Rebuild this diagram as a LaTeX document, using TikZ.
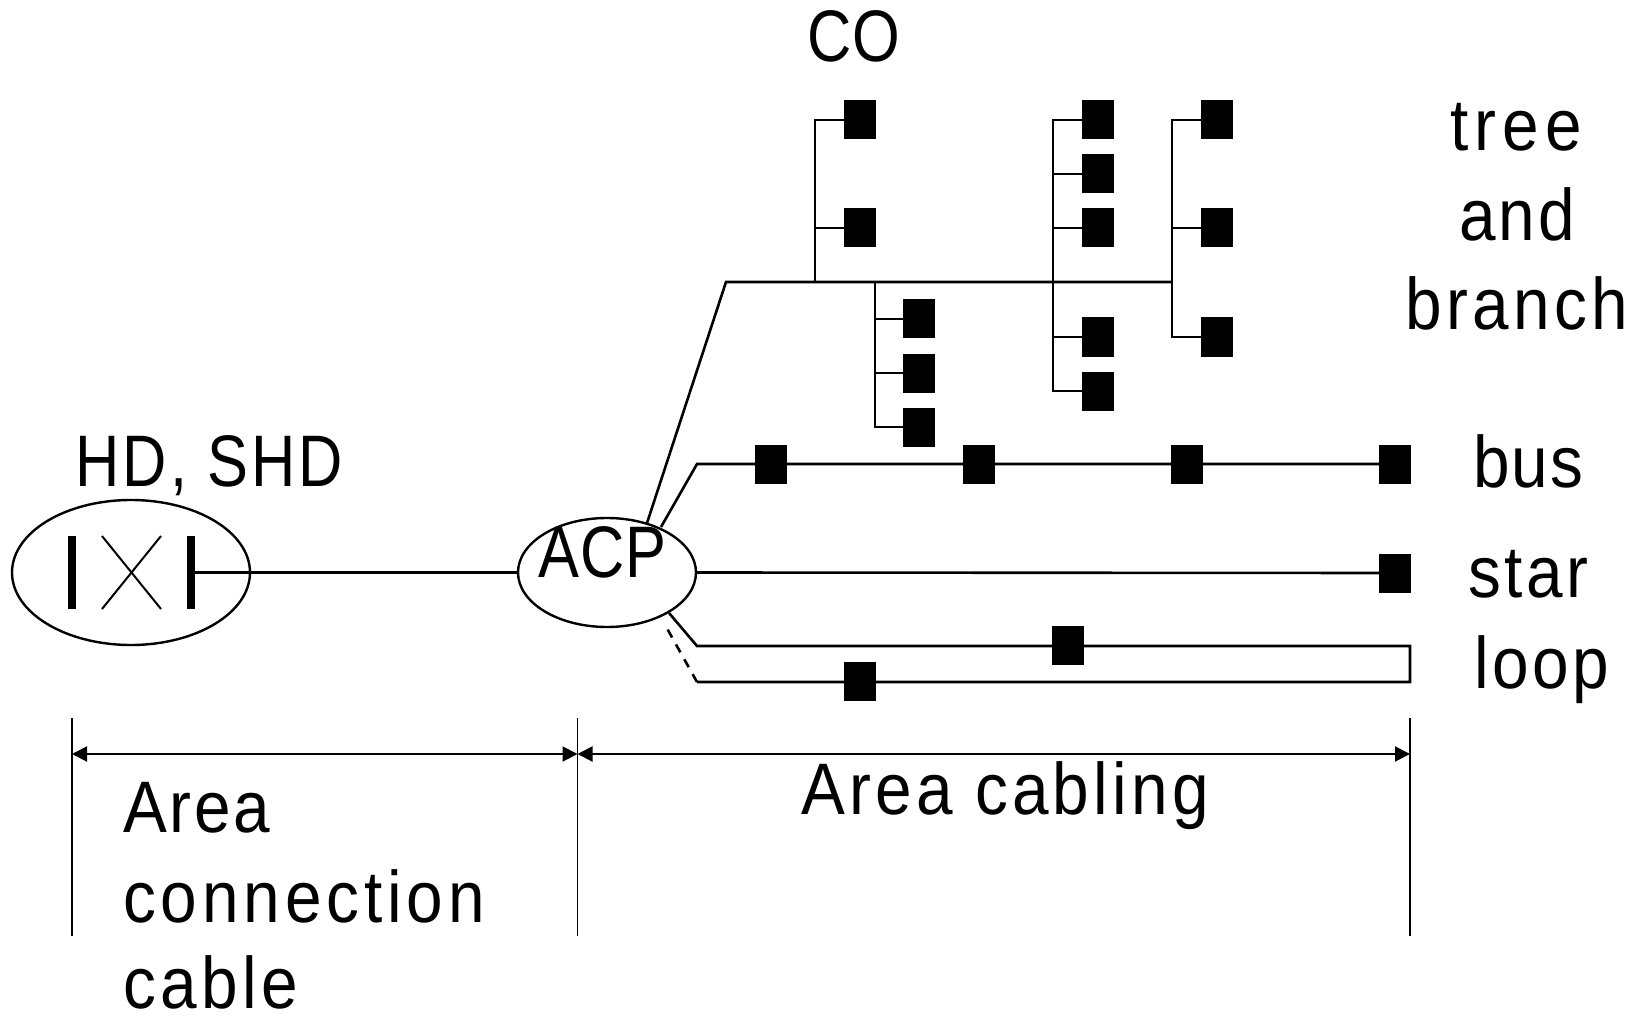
\documentclass[tikz,border=0pt]{standalone}
\usepackage{fontspec}
\setmainfont[FakeStretch=0.84]{Liberation Sans}
\newfontfamily\lowfont[FakeStretch=0.9]{Liberation Sans}
\usetikzlibrary{shapes.geometric,arrows.meta}
\newcommand{\capsp}[1]{\addfontfeature{LetterSpace=#1}}
\newcommand{\lowsp}[1]{\lowfont\addfontfeature{LetterSpace=#1}}
\tikzset{
  px/.style={x=1pt,y=-1pt},
  wire/.style={line width=2.6pt,line join=miter},
  thin wire/.style={line width=2pt},
  term/.style={draw=none,fill=black,minimum width=32pt,minimum height=39pt,inner sep=0pt,outer sep=0pt},
  oval/.style={draw,ellipse,line width=2.4pt,inner sep=0pt,outer sep=0pt},
  bar/.style={draw=none,fill=black,minimum width=8pt,minimum height=73pt,inner sep=0pt,outer sep=0pt},
  lab/.style={anchor=base west,inner sep=0pt,font=\fontsize{73pt}{73pt}\selectfont},
  dim/.style={line width=2pt,{Triangle[length=15pt,width=15pt]}-{Triangle[length=15pt,width=15pt]}},
}
\begin{document}
\begin{tikzpicture}[px]
\useasboundingbox (0,0) rectangle (1636,1016);
% ovals
\node[oval,minimum width=238pt,minimum height=145pt] (hd) at (131,572.5) {};
\node[oval,minimum width=178pt,minimum height=109pt] (acp) at (607,572.5) {};
% exchange symbol
\node[bar] (barL) at (72,572.5) {};
\node[bar] (barR) at (191,572.5) {};
\coordinate (x1) at (102,536); \coordinate (x2) at (161,609);
\coordinate (x3) at (161,536); \coordinate (x4) at (102,609);
\draw[thin wire] (x1) -- (x2);
\draw[thin wire] (x3) -- (x4);
\draw[wire] (barR.east) -- (acp.west);
% tree terminals
\node[term] (t11) at (860,120) {};
\node[term] (t12) at (860,228) {};
\node[term] (t21) at (1098,120) {};
\node[term] (t22) at (1098,174) {};
\node[term] (t23) at (1098,228) {};
\node[term] (t24) at (1098,337) {};
\node[term] (t25) at (1098,391) {};
\node[term] (t31) at (1217,120) {};
\node[term] (t32) at (1217,228) {};
\node[term] (t33) at (1217,337) {};
\node[term] (t41) at (919,319) {};
\node[term] (t42) at (919,373) {};
\node[term] (t43) at (919,427) {};
% tree junctions
\coordinate (acpT) at (647,523);
\coordinate (tr0) at (726,282);
\coordinate (tr1) at (815,282);
\coordinate (tr4) at (875,282);
\coordinate (tr2) at (1053,282);
\coordinate (tr3) at (1172,282);
\draw[wire] (acpT) -- (tr0) -- (tr3);
\draw[wire] (t11.center) -| (tr1);
\draw[wire] (t12.center) -| (tr1);
\draw[wire] (t21.center) -| (tr2);
\draw[wire] (t22.center) -| (tr2);
\draw[wire] (t23.center) -| (tr2);
\draw[wire] (t24.center) -| (tr2);
\draw[wire] (t25.center) -| (tr2);
\draw[wire] (t31.center) -| (tr3);
\draw[wire] (t32.center) -| (tr3);
\draw[wire] (t33.center) -| (tr3);
\draw[wire] (t41.center) -| (tr4);
\draw[wire] (t42.center) -| (tr4);
\draw[wire] (t43.center) -| (tr4);
% bus
\node[term] (b1) at (771,464) {};
\node[term] (b2) at (979,464) {};
\node[term] (b3) at (1187,464) {};
\node[term] (b4) at (1395,464) {};
\coordinate (acpB) at (661,527);
\coordinate (busK) at (697,464);
\draw[wire] (acpB) -- (busK) -- (b1) -- (b2) -- (b3) -- (b4);
% star
\node[term] (s1) at (1395,573) {};
\draw[wire] (acp.east) -- (s1);
% loop
\node[term] (l1) at (1068,645) {};
\node[term] (l2) at (860,681) {};
\coordinate (acpL) at (669,613);
\coordinate (acpD) at (664,623);
\coordinate (lk1) at (697,646);
\coordinate (lk2) at (697,682);
\coordinate (lr1) at (1410,646);
\coordinate (lr2) at (1410,682);
\draw[wire] (acpL) -- (lk1) -- (lr1) -- (lr2) -- (lk2);
\draw[wire,dash pattern=on 9pt off 8pt] (lk2) -- (acpD);
% dimensions
\coordinate (d1a) at (72,718); \coordinate (d1b) at (72,936);
\coordinate (d2a) at (577.5,718); \coordinate (d2b) at (577.5,936);
\coordinate (d3a) at (1410,718); \coordinate (d3b) at (1410,936);
\draw[line width=1.8pt] (d1a) -- (d1b);
\draw[line width=1.8pt] (d2a) -- (d2b);
\draw[line width=1.8pt] (d3a) -- (d3b);
\coordinate (a1) at (72,754); \coordinate (a2) at (577.5,754); \coordinate (a3) at (1410,754);
\draw[dim] (a1) -- (a2);
\draw[dim] (a2) -- (a3);
% labels
\node[lab] (co) at (807,62) {\capsp{2}CO};
\node[lab] (ltree) at (1450,151) {\lowsp{8.6}tree};
\node[lab] (land) at (1459,241) {\lowsp{4.4}and};
\node[lab] (lbranch) at (1405,330) {\lowsp{6}branch};
\node[lab] (lhd) at (75,486) {\capsp{4.3}HD, SHD};
\node[lab] (lacp) at (538,577) {\capsp{1.5}ACP};
\node[lab] (lbus) at (1473,487) {\lowsp{3.1}bus};
\node[lab] (lstar) at (1468,597) {\lowsp{5}star};
\node[lab] (lloop) at (1474,688) {\lowsp{5}loop};
\node[lab] (lcab) at (801,814) {\lowsp{5.8}Area cabling};
\node[lab] (la1) at (123,832) {\lowsp{3.7}Area};
\node[lab] (la2) at (123,922) {\lowsp{6.7}connection};
\node[lab] (la3) at (123,1008) {\lowsp{6}cable};
\end{tikzpicture}
\end{document}
